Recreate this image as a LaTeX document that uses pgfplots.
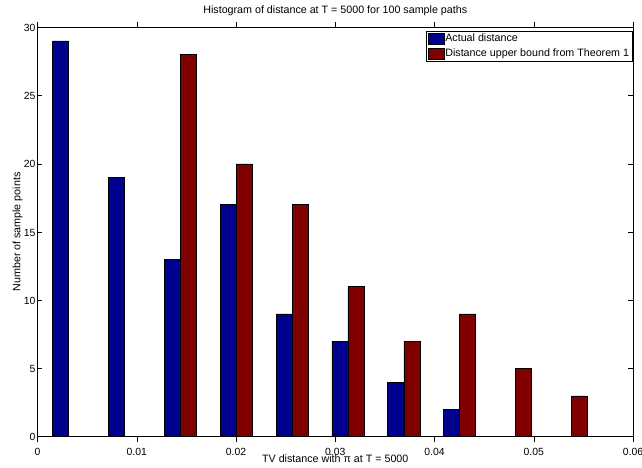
\documentclass[border=0pt]{standalone}
\usepackage{fontspec}
\setmainfont{Liberation Sans}
\usepackage{pgfplots}
\usepackage{pgfplotstable}
\pgfplotsset{compat=1.18}
\usetikzlibrary{calc}
\definecolor{mblue}{rgb}{0,0,0.5625}
\definecolor{mred}{rgb}{0.5,0,0}

\pgfplotstableread{
x        blue red
0.003140 29   0
0.008767 19   0
0.014394 13   28
0.020021 17   20
0.025648 9    17
0.031275 7    11
0.036902 4    7
0.042529 2    9
0.048156 0    5
0.053783 0    3
}\histdata

\pgfplotsset{
  mlegend/.style={legend image code/.code={%
    \draw[##1, draw=black, line width=0.5bp] (0bp,-5.5bp) rectangle (16bp,5.5bp);}},
}

\begin{document}
\begin{tikzpicture}
\begin{axis}[
  name=ax,
  scale only axis,
  width=595.5bp, height=409.4bp,
  xmin=0, xmax=0.06, ymin=0, ymax=30,
  xtick={0,0.01,0.02,0.03,0.04,0.05,0.06},
  xticklabels={0,0.01,0.02,0.03,0.04,0.05,0.06},
  ytick={0,5,10,15,20,25,30},
  yticklabels={0,5,10,15,20,25,30},
  /pgf/number format/assume math mode=true,
  tick align=inside,
  xtick pos=both, ytick pos=both,
  major tick length=5bp,
  tick style={black, line width=0.5bp},
  axis line style={black, line width=0.6bp},
  ticklabel style={font=\fontsize{10.4bp}{12bp}\selectfont},
  xticklabel style={anchor=base, inner sep=0pt, yshift=-13.3bp},
  yticklabel style={anchor=east, inner sep=0pt, xshift=-1.8bp, yshift=-0.6bp},
  title={Histogram of distance at T = 5000 for 100 sample paths},
  title style={at={(axis description cs:0.5,1.0203)}, anchor=base, font=\fontsize{10.7bp}{12bp}\selectfont, inner sep=0pt},
  xlabel={TV distance with π at T = 5000},
  xlabel style={at={(axis description cs:0.5,-0.0618)}, anchor=base, font=\fontsize{10.7bp}{12bp}\selectfont, inner sep=0pt},
  ylabel={Number of sample points},
  ylabel style={at={(axis description cs:-0.0287,0.5)}, anchor=base, rotate=0, font=\fontsize{10.7bp}{12bp}\selectfont, inner sep=0pt},
  ybar,
  bar width=0.001612,
  legend style={at={(axis description cs:0.999,0.991)}, anchor=north east,
    draw=black, line width=0.6bp, fill=white,
    font=\fontsize{10.7bp}{12bp}\selectfont,
    inner xsep=2bp, inner ysep=1.5bp, row sep=2bp,
    nodes={inner sep=1bp, text height=8bp, text depth=2.5bp}},
  legend cell align=left,
]
\addplot[fill=mblue, draw=black, line width=0.5bp, bar shift=-0.000806, mlegend] table[x=x, y=blue] {\histdata};
\addlegendentry{Actual distance}
\addplot[fill=mred, draw=black, line width=0.5bp, bar shift=0.000806, mlegend] table[x=x, y=red] {\histdata};
\addlegendentry{Distance upper bound from Theorem 1}
\end{axis}
\pgfresetboundingbox
\path[use as bounding box] ($(ax.south west)+(-37.5bp,-31.3bp)$) rectangle ($(ax.north east)+(9bp,27.3bp)$);
\end{tikzpicture}
\end{document}
